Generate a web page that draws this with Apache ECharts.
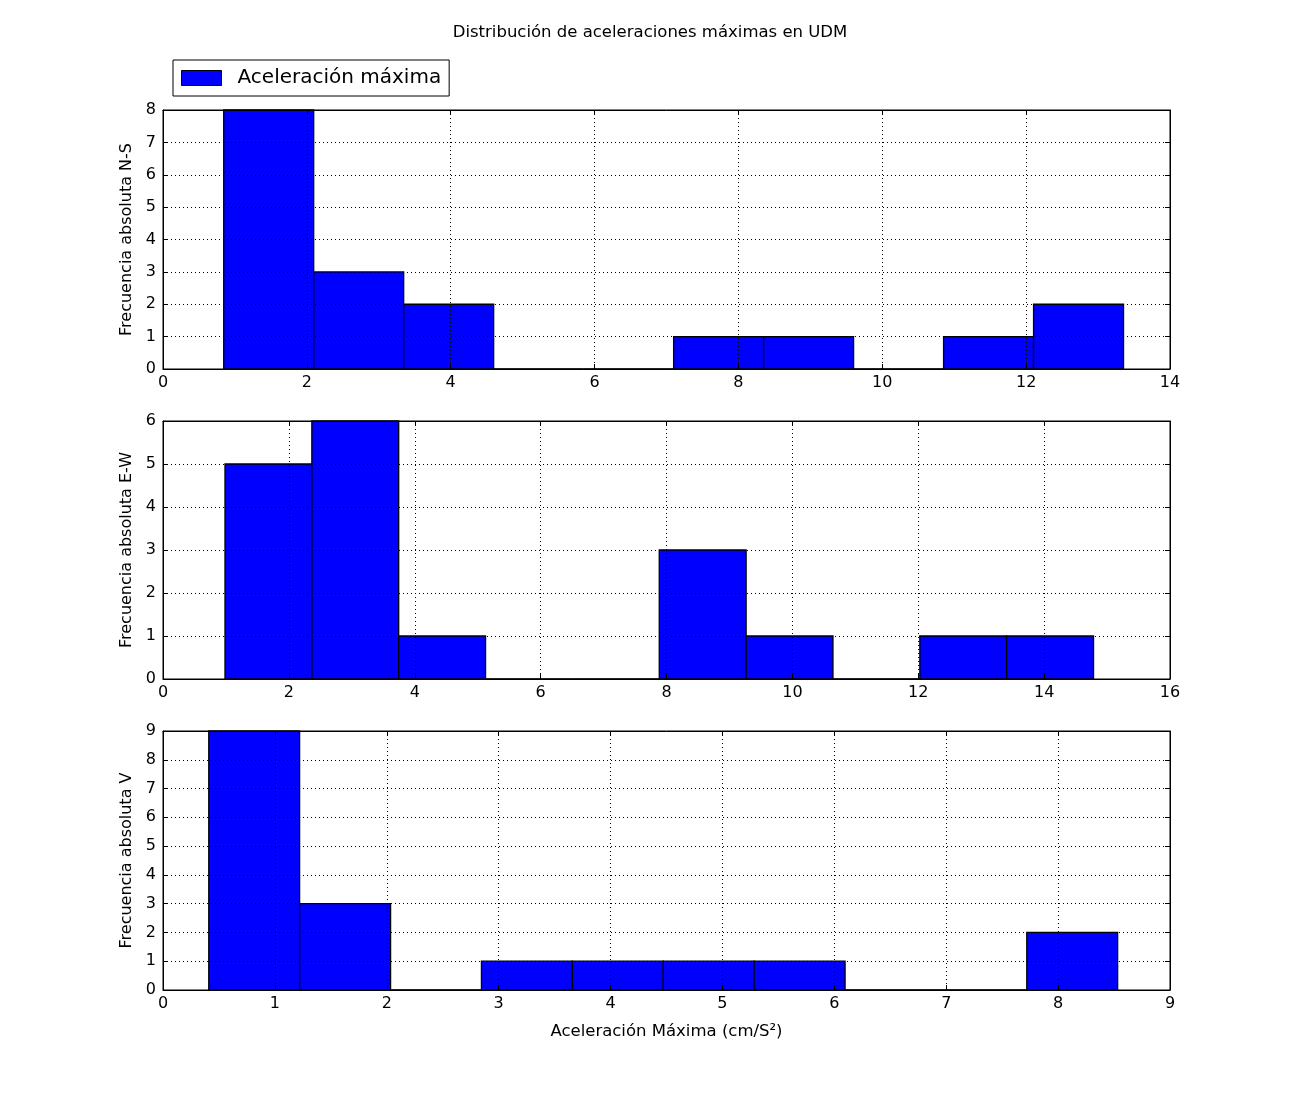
<!DOCTYPE html>
<html>
<head>
<meta charset="utf-8">
<script src="https://cdn.jsdelivr.net/npm/echarts@6/dist/echarts.min.js"></script>
<style>html,body{margin:0;padding:0;background:#fff;}#c{width:1300px;height:1100px;}</style>
</head>
<body>
<div id="c"></div>
<script>
// Bin edges and counts
var nsEdges = [0.844, 2.095, 3.346, 4.597, 5.848, 7.099, 8.350, 9.601, 10.852, 12.103, 13.354];
var nsCounts = [8, 3, 2, 0, 0, 1, 1, 0, 1, 2];
var ewEdges = [0.985, 2.365, 3.745, 5.125, 6.505, 7.885, 9.265, 10.645, 12.025, 13.405, 14.785];
var ewCounts = [5, 6, 1, 0, 0, 3, 1, 0, 1, 1];
var vEdges = [0.409, 1.221, 2.034, 2.846, 3.659, 4.471, 5.283, 6.096, 6.908, 7.720, 8.532];
var vCounts = [9, 3, 0, 1, 1, 1, 1, 0, 0, 2];

var yNames = ['Frecuencia absoluta N-S', 'Frecuencia absoluta E-W', 'Frecuencia absoluta V'];
var xRanges = [[0, 14, 2], [0, 16, 2], [0, 9, 1]];
var yRanges = [[0, 8, 1], [0, 6, 1], [0, 9, 1]];
var titleText = 'Distribución de aceleraciones máximas en UDM';
var xAxisTitle = 'Aceleración Máxima (cm/S²)';
var seriesName = 'Aceleración máxima';

function toData(edges, counts) {
  var d = [];
  for (var i = 0; i < counts.length; i++) d.push([edges[i], edges[i + 1], counts[i]]);
  return d;
}
var datasets = [toData(nsEdges, nsCounts), toData(ewEdges, ewCounts), toData(vEdges, vCounts)];

var FONT = 'DejaVu Sans';
var gridTops = [110, 421, 731];
var gridHeights = [259, 258, 259];

var grids = [], xAxes = [], yAxes = [], series = [];
var gridLine = { show: true, lineStyle: { color: '#000', width: 1, type: [1, 3] } };

for (var g = 0; g < 3; g++) {
  grids.push({ left: 163, right: 130, top: gridTops[g], height: gridHeights[g], show: true, borderColor: '#000', borderWidth: 1, backgroundColor: 'transparent', containLabel: false });
  xAxes.push({
    type: 'value', gridIndex: g, min: xRanges[g][0], max: xRanges[g][1], interval: xRanges[g][2],
    position: 'bottom', z: 5,
    axisLine: { show: true, onZero: false, lineStyle: { color: '#000', width: 1 } },
    axisTick: { show: true, inside: true, length: 5, lineStyle: { color: '#000' } },
    axisLabel: { color: '#000', fontFamily: FONT, fontSize: 16, margin: 6 },
    splitLine: gridLine,
    name: g === 2 ? xAxisTitle : '', nameLocation: 'middle', nameGap: 33,
    nameTextStyle: { color: '#000', fontFamily: FONT, fontSize: 16.5 }
  });
  xAxes.push({
    type: 'value', gridIndex: g, min: xRanges[g][0], max: xRanges[g][1], interval: xRanges[g][2],
    position: 'top', z: 5,
    axisLine: { show: true, onZero: false, lineStyle: { color: '#000', width: 1 } },
    axisTick: { show: true, inside: true, length: 5, lineStyle: { color: '#000' } },
    axisLabel: { show: false }, splitLine: { show: false }
  });
  yAxes.push({
    type: 'value', gridIndex: g, min: yRanges[g][0], max: yRanges[g][1], interval: yRanges[g][2],
    position: 'left', z: 5,
    axisLine: { show: true, onZero: false, lineStyle: { color: '#000', width: 1 } },
    axisTick: { show: true, inside: true, length: 5, lineStyle: { color: '#000' } },
    axisLabel: { color: '#000', fontFamily: FONT, fontSize: 16, margin: 7 },
    splitLine: gridLine,
    name: yNames[g], nameLocation: 'middle', nameGap: 21, nameRotate: 90,
    nameTextStyle: { color: '#000', fontFamily: FONT, fontSize: 16 }
  });
  yAxes.push({
    type: 'value', gridIndex: g, min: yRanges[g][0], max: yRanges[g][1], interval: yRanges[g][2],
    position: 'right', z: 5,
    axisLine: { show: true, onZero: false, lineStyle: { color: '#000', width: 1 } },
    axisTick: { show: true, inside: true, length: 5, lineStyle: { color: '#000' } },
    axisLabel: { show: false }, splitLine: { show: false }
  });
  series.push({
    type: 'custom', name: seriesName,
    xAxisIndex: g * 2, yAxisIndex: g * 2,
    encode: { x: [0, 1], y: 2 },
    data: datasets[g],
    z: 2,
    itemStyle: { color: '#0000ff', borderColor: '#000', borderWidth: 1 },
    renderItem: function (params, api) {
      var p0 = api.coord([api.value(0), 0]);
      var p1 = api.coord([api.value(1), api.value(2)]);
      return {
        type: 'rect',
        shape: { x: p0[0], y: p1[1], width: p1[0] - p0[0], height: p0[1] - p1[1] },
        style: { fill: '#0000ff', stroke: '#000', lineWidth: 1.3 }
      };
    }
  });
}

var chart = echarts.init(document.getElementById('c'), null, { renderer: 'canvas' });
chart.setOption({
  backgroundColor: '#fff',
  animation: false,
  title: { text: titleText, left: 'center', top: 19, textStyle: { color: '#000', fontFamily: FONT, fontSize: 16.5, fontWeight: 'normal' } },
  legend: {
    left: 173, top: 60, orient: 'horizontal',
    borderColor: '#000', borderWidth: 1, borderRadius: 0, padding: [8, 8, 8, 8],
    itemWidth: 40, itemHeight: 15,
    data: [{ name: seriesName, icon: 'rect', itemStyle: { color: '#0000ff', borderColor: '#000', borderWidth: 1 } }],
    textStyle: { color: '#000', fontFamily: FONT, fontSize: 20, padding: [0, 0, 0, 11] },
    selectedMode: false
  },
  grid: grids,
  xAxis: xAxes,
  yAxis: yAxes,
  series: series
});
</script>
</body>
</html>
